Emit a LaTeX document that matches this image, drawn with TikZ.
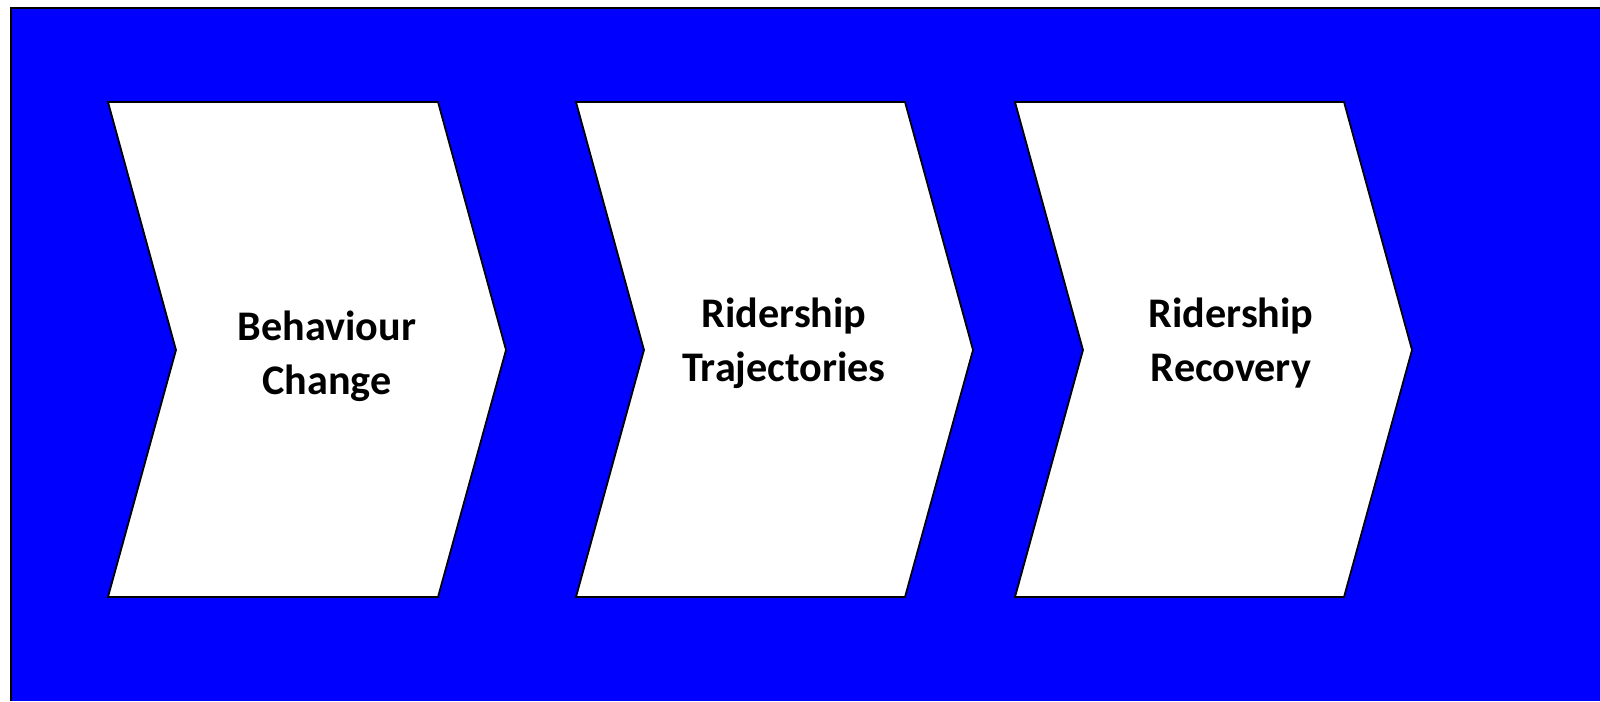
\documentclass[tikz,border=0pt]{standalone}
\usepackage{fontspec}
\setsansfont{Carlito}
\usepackage{tikz}
\usetikzlibrary{positioning,calc}
\definecolor{panel}{HTML}{0000FF}
\definecolor{ink}{HTML}{000000}

\tikzset{
  chev/.style={fill=white,draw=ink,line width=1pt,line join=miter},
  lab/.style={text=ink,font=\sffamily\bfseries\fontsize{24}{30.5}\selectfont,
    align=center}
}

\begin{document}
\begin{tikzpicture}[x=0.02cm,y=0.02cm]
  \useasboundingbox (0,0) rectangle (1600,701);
  % background panel
  \fill[panel] (11,0) rectangle (1600,693);
  \draw[ink,line width=1pt] (11,0) -- (11,693) -- (1600,693);

  % chevrons: left x, top-right x
  \foreach \a/\b in {108/438,576/905,1015/1344} {
    \draw[chev] (\a,599) -- (\b,599) -- (\b+68,351) -- (\b,104)
      -- (\a,104) -- (\a+68,351) -- cycle;
  }

  \node[lab] (behav) at (327,345) {Behaviour\\Change};
  \node[lab] (traj) at (784,358) {Ridership\\Trajectories};
  \node[lab] (recov) at (1231,358) {Ridership\\Recovery};
\end{tikzpicture}
\end{document}
